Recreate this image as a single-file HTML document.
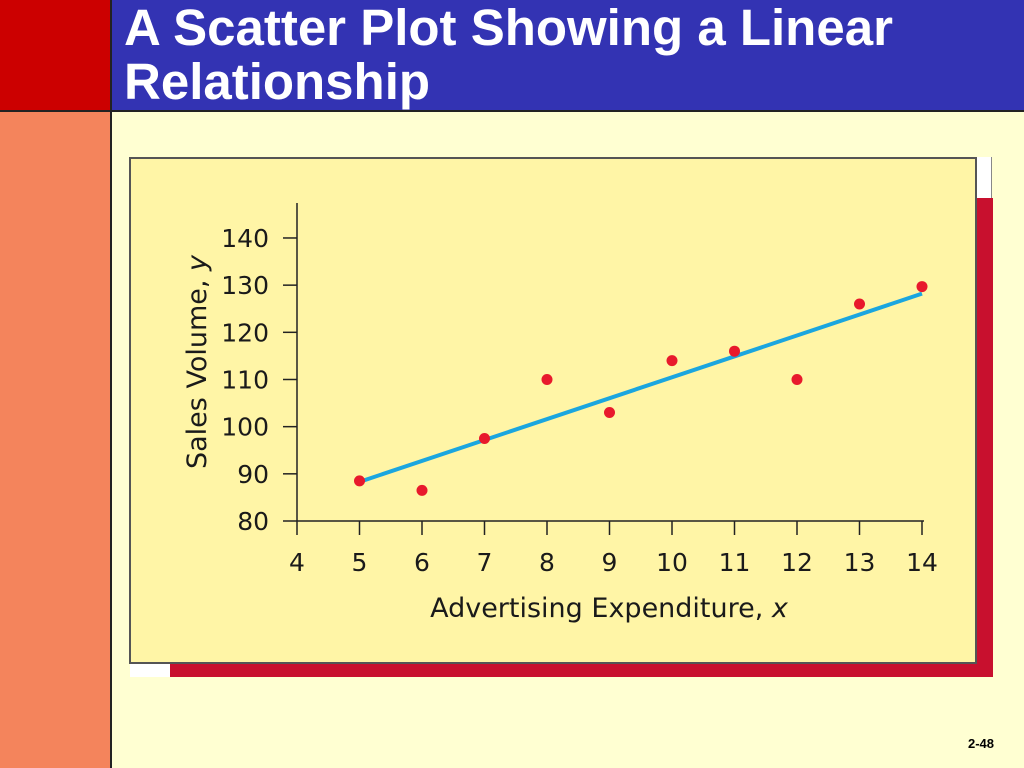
<!DOCTYPE html>
<html><head><meta charset="utf-8"><style>
body{margin:0;width:1024px;height:768px;overflow:hidden;background:#FFFFD2;position:relative;font-family:"Liberation Sans",sans-serif}
.abs{position:absolute}
</style></head><body>
<div class="abs" style="left:0;top:0;width:110px;height:110px;background:#CC0000;border-right:2px solid #222;border-bottom:2px solid #222"></div>
<div class="abs" style="left:0;top:112px;width:110px;height:656px;background:#F4845C;border-right:2px solid #222"></div>
<div class="abs" style="left:112px;top:0;width:912px;height:110px;background:#3333B3;border-bottom:2px solid #222"></div>
<div class="abs" style="left:124px;top:1px;color:#fff;font-weight:bold;font-size:51px;line-height:54px;white-space:nowrap">A Scatter Plot Showing a Linear<br>Relationship</div>
<div class="abs" style="left:968px;top:736px;font-size:13px;font-weight:bold;color:#000">2-48</div>
<div class="abs" style="left:977px;top:157px;width:14px;height:42px;background:#fff;border-right:1px solid #888"></div>
<div class="abs" style="left:170px;top:198px;width:823px;height:479px;background:#C8102E"></div>
<div class="abs" style="left:130px;top:663px;width:40px;height:14px;background:#fff"></div>
<svg class="abs" style="left:0;top:0" width="1024" height="768">
<rect x="130" y="158" width="846" height="505" fill="#FFF5A6" stroke="#555" stroke-width="2"/>
<g id="plot"></g>
</svg>
<script>
const xVals=[5,6,7,8,9,10,11,12,13,14];
const yVals=[88.5,86.5,97.5,110,103,114,116,110,126,129.7];
const xTicks=[4,5,6,7,8,9,10,11,12,13,14];
const yTicks=[80,90,100,110,120,130,140];
const fitStart=[5,88.3], fitEnd=[14,128.2];
const X=v=>297+(v-4)*62.5, Y=v=>521-(v-80)*4.717;
const NS='http://www.w3.org/2000/svg', g=document.getElementById('plot');
function mk(t,a,txt){const e=document.createElementNS(NS,t);for(const k in a)e.setAttribute(k,a[k]);if(txt!=null)e.textContent=txt;g.appendChild(e);return e;}
const font='"DejaVu Sans","Liberation Sans",sans-serif';
let e=mk('line',{x1:297,y1:203,x2:297,y2:521,stroke:'#222','stroke-width':1.5});

e=mk('line',{x1:297,y1:521,x2:924,y2:521,stroke:'#222','stroke-width':1.5});

yTicks.forEach(v=>{
 e=mk('line',{x1:283,y1:Y(v),x2:297,y2:Y(v),stroke:'#222','stroke-width':1.5});
 
 e=mk('text',{x:269,y:Y(v)+9,'text-anchor':'end','font-size':25,'font-family':font,fill:'#1a1a1a'},v);
 
});
xTicks.forEach(v=>{
 e=mk('line',{x1:X(v),y1:521,x2:X(v),y2:535,stroke:'#222','stroke-width':1.5});
 
 e=mk('text',{x:X(v),y:571,'text-anchor':'middle','font-size':25,'font-family':font,fill:'#1a1a1a'},v);
 
});
e=mk('text',{x:609,y:617,'text-anchor':'middle','font-size':27,'font-family':font,fill:'#1a1a1a'});
e.innerHTML='Advertising Expenditure, <tspan font-style="italic">x</tspan>';

e=mk('text',{x:0,y:0,'text-anchor':'middle','font-size':27,'font-family':font,fill:'#1a1a1a',transform:'translate(206,362) rotate(-90)'});
e.innerHTML='Sales Volume, <tspan font-style="italic">y</tspan>';

e=mk('line',{x1:X(fitStart[0]),y1:Y(fitStart[1]),x2:X(fitEnd[0]),y2:Y(fitEnd[1]),stroke:'#1BA6DF','stroke-width':4});

xVals.forEach((v,i)=>{
 e=mk('circle',{cx:X(v),cy:Y(yVals[i]),r:5.5,fill:'#E8192C'});
 
});
</script>
</body></html>
